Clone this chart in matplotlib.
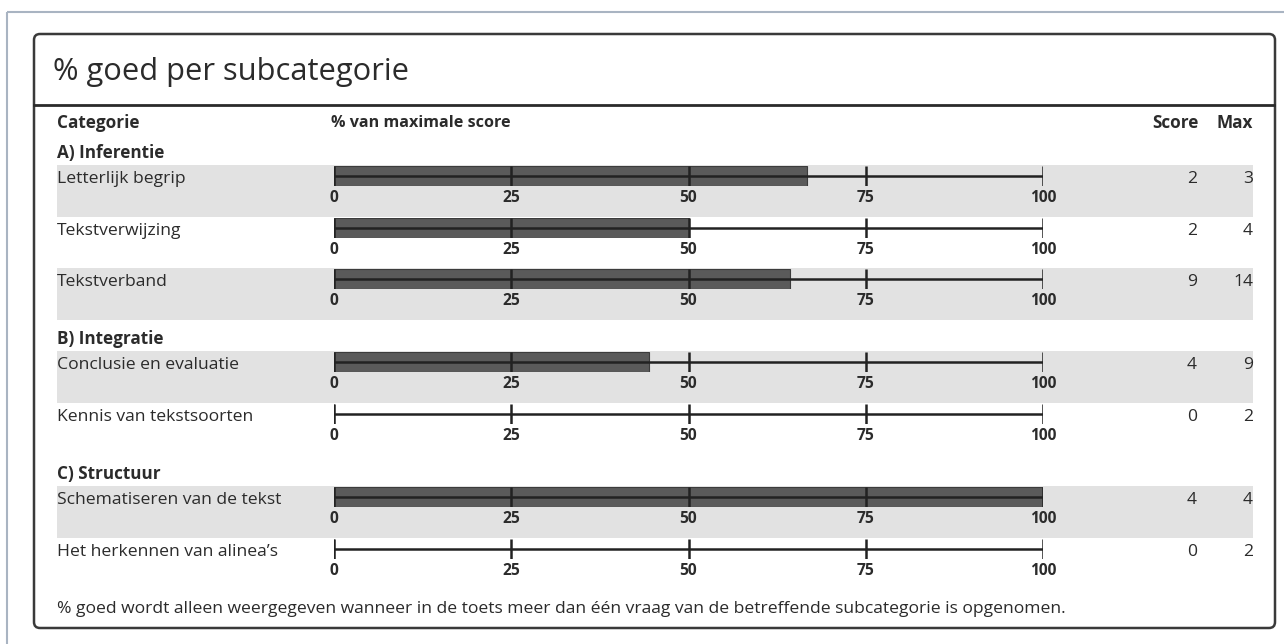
import matplotlib
matplotlib.use('Agg')
import matplotlib.pyplot as plt
from matplotlib.patches import FancyBboxPatch, Rectangle

# data
sections = ["A) Inferentie", "B) Integratie", "C) Structuur"]
section_rows = [
    ["Letterlijk begrip", "Tekstverwijzing", "Tekstverband"],
    ["Conclusie en evaluatie", "Kennis van tekstsoorten"],
    ["Schematiseren van de tekst", "Het herkennen van alinea’s"],
]
scores = [2, 2, 9, 4, 0, 4, 0]
max_scores = [3, 4, 14, 9, 2, 4, 2]
ticks = [0, 25, 50, 75, 100]

title = "% goed per subcategorie"
footnote = ("% goed wordt alleen weergegeven wanneer in de toets meer dan één vraag "
            "van de betreffende subcategorie is opgenomen.")

plt.rcParams['font.family'] = ['Open Sans', 'DejaVu Sans']
TXT = '#2b2b2b'
BAR = '#5a5a5a'
BAND = '#e2e2e2'
FS = 12.6     # body text
FSB = 12.3    # bold headers

W, H = 1284, 644
fig = plt.figure(figsize=(W / 100, H / 100), dpi=100)
bg = fig.add_axes([0, 0, 1, 1])
bg.set_xlim(0, W)
bg.set_ylim(H, 0)
bg.axis('off')

# outer light frame and inner rounded box
bg.add_patch(Rectangle((7, 12), 1300, 700, fill=False, ec='#a9b4c2', lw=1.5))
bg.add_patch(FancyBboxPatch((34, 34), 1241, 594, boxstyle="round,pad=0,rounding_size=6",
                            fill=False, ec='#3a3a3a', lw=1.8))
bg.plot([34, 1274], [105, 105], color='#2a2a2a', lw=2)

bg.text(53, 72, title, fontsize=22.2, color=TXT, va='center')

# header
hy = 123
bg.text(57, hy, "Categorie", fontsize=FSB, weight='bold', color=TXT, va='center')
bg.text(331, hy, "% van maximale score", fontsize=11.6, weight='bold', color=TXT, va='center')
bg.text(1199, hy, "Score", fontsize=FSB, weight='bold', color=TXT, va='center', ha='right')
bg.text(1253, hy, "Max", fontsize=FSB, weight='bold', color=TXT, va='center', ha='right')

x0, x1 = 334, 1043
row_h = 51.5
bar_h = 20
section_y = [153, 339, 474]

i = 0
for s, rows, sy in zip(sections, section_rows, section_y):
    bg.text(57, sy, s, fontsize=FSB, weight='bold', color=TXT, va='center')
    top = sy + 12
    for j, name in enumerate(rows):
        y = top + j * row_h
        if j % 2 == 0:
            bg.add_patch(Rectangle((57, y), 1196, row_h, color=BAND, lw=0))
        bg.text(57, y + 14, name, fontsize=FS, color=TXT, va='center')
        bg.text(1197, y + 14, str(scores[i]), fontsize=FS, color=TXT, va='center', ha='right')
        bg.text(1253, y + 14, str(max_scores[i]), fontsize=FS, color=TXT, va='center', ha='right')

        ax = fig.add_axes([x0 / W, 1 - (y + 1 + bar_h) / H, (x1 - x0) / W, bar_h / H])
        ax.set_xlim(0, 100)
        ax.set_ylim(-0.5, 0.5)
        ax.patch.set_alpha(0)
        for sp in ax.spines.values():
            sp.set_visible(False)
        pct = scores[i] / max_scores[i] * 100
        ax.barh(0, pct, height=1, color=BAR, edgecolor='#3c3c3c', lw=0.8)
        ax.plot([0, 100], [0, 0], color='#222222', lw=1.8)
        ax.vlines(ticks, -0.5, 0.5, color='#222222', lw=1.8)
        ax.set_yticks([])
        ax.set_xticks(ticks)
        ax.set_xticklabels([str(t) for t in ticks], fontsize=11.2, weight='bold', color=TXT)
        ax.tick_params(axis='x', length=0, pad=3)
        i += 1

bg.text(57, 609, footnote, fontsize=FS, color=TXT, va='center')

fig.savefig('out.png', dpi=100)
